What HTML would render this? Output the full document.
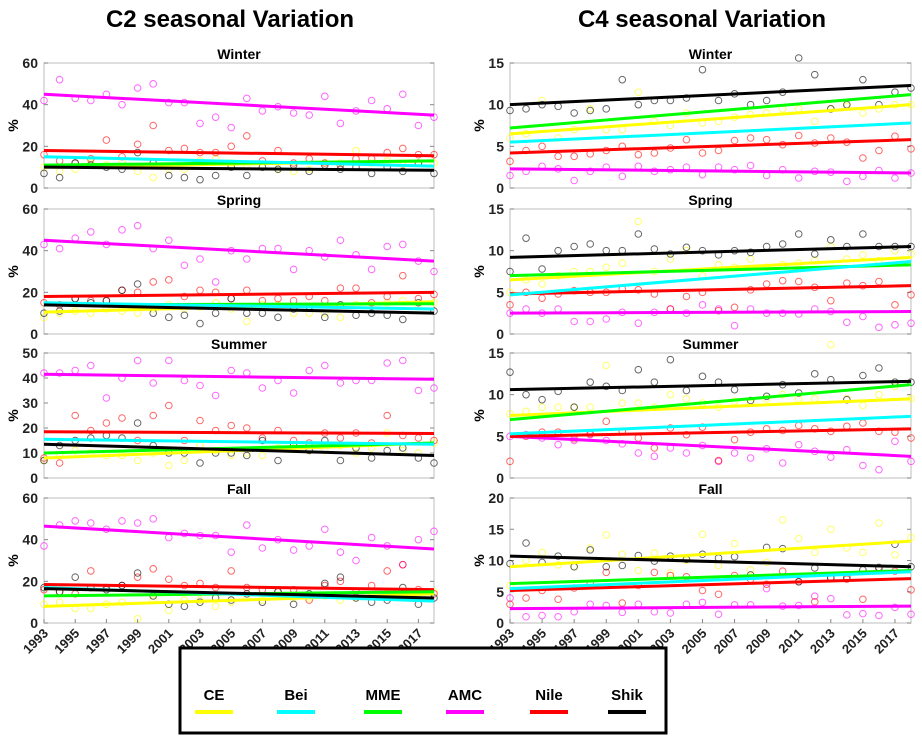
<!DOCTYPE html>
<html><head><meta charset="utf-8"><style>
body{margin:0;background:#fff;width:922px;height:743px;overflow:hidden;font-family:"Liberation Sans",sans-serif}
</style></head><body>
<svg id="chart" width="922" height="743" font-family="Liberation Sans, sans-serif">
<text x="230" y="27" font-size="24" font-weight="bold" text-anchor="middle">C2 seasonal Variation</text>
<text x="702" y="27" font-size="24" font-weight="bold" text-anchor="middle">C4 seasonal Variation</text>
<g id="panels"></g>
<rect x="180" y="648" width="486" height="85" fill="#fff" stroke="#000" stroke-width="3"/>
<g id="legend"></g>
</svg>
<script>
const years = [1993,1994,1995,1996,1997,1998,1999,2000,2001,2002,2003,2004,2005,2006,2007,2008,2009,2010,2011,2012,2013,2014,2015,2016,2017,2018];
const seriesNames = ["CE","Bei","MME","AMC","Nile","Shik"];
const seriesColors = ["#ffff00","#00ffff","#00ff00","#ff00ff","#ff0000","#000000"];
const seasons = ["Winter","Spring","Summer","Fall"];
const c2Ticks = [0,20,40,60];
const c2SummerTicks = [0,10,20,30,40,50];
const c4Ticks = [0,5,10,15];
const c4FallTicks = [0,5,10,15,20];
const xTickYears = [1993,1995,1997,1999,2001,2003,2005,2007,2009,2011,2013,2015,2017];
// trend start / end values per series [CE,Bei,MME,AMC,Nile,Shik]
const c2TrendStart = [[10,15,11,45,18,10],[10.5,15,14,45,18,14],[8,15.5,10,41.5,18.5,13.5],[8,17,13,46.5,18.5,16.5]];
const c2TrendEnd   = [[13,10.5,13,35,15.5,8.5],[15.5,12,14.5,35,20,10],[14,13.5,14,39.5,17.8,9],[14,10.5,15,35.5,16,12]];
const c4TrendStart = [[6.5,5.5,7.2,2.3,4.2,10],[6.5,4.7,7,2.5,4.8,9.2],[7.5,5.3,7,5,5,10.6],[9,5.5,6.3,2.3,5.2,10.7]];
const c4TrendEnd   = [[10,7.8,11.2,1.8,5.8,12.3],[9.2,8.7,8.3,2.7,5.8,10.5],[9.5,7.4,11.2,2.6,5.9,11.6],[13.1,8.2,8.4,2.7,7.1,9]];
const c2AMC = [
 [42,52,43,42,45,40,48,50,41,41,31,34,29,43,37,39,36,35,44,31,37,42,38,45,30,34],
 [43,41,46,49,43,50,52,41,45,33,36,25,40,36,41,41,31,40,37,45,38,31,42,43,35,30],
 [42,42,43,45,32,40,47,38,47,39,37,33,43,42,36,39,34,43,45,38,39,39,46,47,35,36],
 [37,47,49,48,45,49,48,50,41,43,42,42,34,47,36,40,35,37,45,34,30,41,37,28,40,44]];
const c2Nile = [
 [16,13,12,14,23,15,21,30,18,19,17,17,20,25,13,18,12,14,12,11,14,14,17,19,16,16],
 [15,14,17,16,16,21,20,25,26,18,21,20,17,21,16,17,16,18,16,22,22,15,18,28,17,19],
 [8,6,25,19,22,24,15,25,29,15,23,19,21,20,16,19,15,14,18,16,18,14,25,17,16,15],
 [16,15,14,25,17,18,22,26,21,18,19,17,25,17,16,15,16,11,18,20,15,18,25,28,16,14]];
const c2Shik = [
 [7,5,12,11,10,9,17,12,6,5,4,6,10,6,10,9,11,8,11,9,10,7,10,8,12,7],
 [10,11,17,15,16,21,24,10,8,9,5,10,17,10,10,8,12,13,8,14,9,10,9,7,15,11],
 [7,13,15,16,17,16,22,13,10,10,6,10,10,9,15,7,13,11,15,7,12,8,11,12,8,6],
 [17,15,22,17,16,18,24,13,9,8,10,12,11,14,10,15,9,14,19,22,12,10,11,17,9,12]];
const c4AMC = [
 [1.5,2,2.6,2.3,0.9,2,2.5,1.4,2.6,2,2.2,2.5,1.6,2.5,2.2,2.7,1.5,2.2,1.2,2,1.9,0.8,1.4,2.1,1.2,1.8],
 [2.5,3,2.5,3,1.5,1.5,1.8,2.6,1.3,2.6,3,2.5,3.5,3,1,3,2.5,2.5,2.4,3,2.7,1.4,2.1,0.8,1.1,1.3],
 [5,5.2,4.8,4,4.5,5.2,4.5,4.1,3,2.6,3.6,3,3.9,2,3,2.4,3.5,1.8,4,3.2,2.5,3.4,1.5,1,4.4,2],
 [4,1,1.2,1,1.8,3,2.8,1.7,3,1.8,1.6,3,3.3,1.4,2.9,2.9,5.5,2.7,2.8,4.3,3.9,1.3,1.5,1.2,2.5,1.4]];
const c4Nile = [
 [3.2,4.5,5,3.8,3.8,4.1,4.5,5,4,4.2,4.8,5.8,4.2,4.5,5.7,6,5.8,5.2,6.3,5.4,6,5.5,3.6,4.5,6.2,4.7],
 [3.5,5,4.3,4.8,5.2,5,5,5.4,5.3,4.8,3,4.5,5,2.8,3.2,5.3,6,6.4,6.3,5.6,4,6.1,5.8,6.3,3.5,4.7],
 [2,5,5.5,5.5,4.7,5.3,6.8,5.6,4.8,3.6,6,5.2,6.1,2.1,4.6,5.5,5.9,5.7,6.3,5.9,5.6,6.2,6.6,5.6,5.5,4.8],
 [3,4,5.2,3.8,5.6,6.3,8.1,3.2,6,8.1,7.6,7.4,5.2,4.6,7.6,7,6.2,8.3,6.6,3.4,7.2,7,3.8,8.7,8.3,5.3]];
const c4Shik = [
 [9.3,9.5,10,9.8,9,9.3,9.5,13,10,10.5,10.5,10.8,14.2,10.5,11.3,10,10.5,11.5,15.6,13.6,9.5,10,13,10,11.5,12],
 [7.5,11.5,7.8,10,10.5,10.8,10,10,12,10.2,9.6,10.4,10,9.5,10,9.8,10.5,10.8,12,9.6,11.3,10.5,12,10.5,10.5,10.5],
 [12.7,10,9.4,10.4,8.5,11.5,11,10.5,13,11.5,14.2,10.5,12.2,11.5,10.6,9.3,9.8,11.2,10.2,12.5,11.8,9.4,12.3,13.2,11.5,11.5],
 [9.5,12.8,9.7,10.7,9,11.7,9,9.2,10.8,9.9,10.7,10.2,11,10.4,10.6,7.7,12.1,11.9,6.6,8.8,7.2,7.3,8.5,8.9,12.6,9]];
const c4CE = [
 [6,6.5,10.5,6,7,9.5,7,7,11.5,8,7.5,9,7.8,8,8.5,8.8,9,9.5,9.5,8,9.5,9.8,9,9.5,10,10],
 [5,6.5,6,7,7.5,7.5,8,8.5,13.5,7.5,9,10,7,8.3,8,9,8,8.3,8.5,8.8,10.5,9,9.5,8.8,10,9.6],
 [7.7,8,8.5,8.5,8.5,8.5,13.5,9,9,8.5,10,9.5,9,8.5,9.2,9,9.5,10,9.5,9.5,16,9.5,8.7,10,11,9.5],
 [6,10,11.3,9.3,9,12,14.1,11,8.4,11.2,8,10,14.2,9.2,12.7,8.5,9.7,16.5,13.5,11.3,15,12,11.3,16,10.9,13.7]];
const c2CE = [
 [10,8,9,12,11,13,8,5,9,9,13,14,12,11,10,9,8,9,12,12,18,12,13,11,12,12],
 [8,10,11,10,12,11,10,12,14,12,13,15,12,6,14,14,10,10,10,8,14,14,15,16,14,15],
 [7,9,11,10,9,9,7,10,5,7,13,11,9,10,9,12,12,11,11,13,10,12,18,11,10,14],
 [9,10,7,7,9,10,2,11,6,11,11,8,10,12,11,13,12,12,13,11,12,13,14,13,14,15]];

const NS="http://www.w3.org/2000/svg";
function mk(tag,attrs,parent){const e=document.createElementNS(NS,tag);for(const k in attrs)e.setAttribute(k,attrs[k]);parent.appendChild(e);return e;}
const panelsG=document.getElementById('panels');
const tops=[63,209,353,498];
const H=125;
const cols=[{x0:44,x1:434,name:'c2'},{x0:510,x1:911,name:'c4'}];

for(let c=0;c<2;c++){
 for(let s=0;s<4;s++){
  const col=cols[c];
  const top=tops[s];
  const ticks = c===0?(s===2?c2SummerTicks:c2Ticks):(s===3?c4FallTicks:c4Ticks);
  const ymax = ticks[ticks.length-1];
  const xs=y=>col.x0+(y-1993)/(2018-1993)*(col.x1-col.x0);
  const ys=v=>top+H-(v/ymax)*H;
  const g=mk('g',{},panelsG);
  
  
  const frame=mk('rect',{x:col.x0,y:top,width:col.x1-col.x0,height:H,fill:'#fff',stroke:'#c8c8c8','stroke-width':1.2},g);
  
  
  const t=mk('text',{x:(col.x0+col.x1)/2,y:top-4,'font-size':14,'font-weight':'bold','text-anchor':'middle'},g);
  t.textContent=seasons[s];
  
  
  const yl=mk('text',{x:0,y:0,'font-size':14,'font-weight':'bold','text-anchor':'middle',transform:`translate(${col.x0-26},${top+H/2}) rotate(-90)`},g);
  yl.textContent='%';
  
  
  ticks.forEach(v=>{
   const tx=mk('text',{x:col.x0-6,y:ys(v)+5,'font-size':14,'font-weight':'bold','text-anchor':'end',fill:'#222'},g);
   tx.textContent=v;
   
   
   mk('line',{x1:col.x0,x2:col.x0+4,y1:ys(v),y2:ys(v),stroke:'#888'},g);
   mk('line',{x1:col.x1,x2:col.x1-4,y1:ys(v),y2:ys(v),stroke:'#888'},g);
  });
  const scat=[];
  if(c===0){scat.push([0,c2CE[s]],[3,c2AMC[s]],[4,c2Nile[s]],[5,c2Shik[s]]);}
  else{scat.push([0,c4CE[s]],[3,c4AMC[s]],[4,c4Nile[s]],[5,c4Shik[s]]);}
  scat.forEach(([si,arr])=>{
   arr.forEach((v,i)=>{
    const ci=mk('circle',{cx:xs(years[i]),cy:ys(v),r:3.3,fill:'none',stroke:seriesColors[si],'stroke-opacity':0.6,'stroke-width':1},g);
    
    
   });
  });
  const st=c===0?c2TrendStart[s]:c4TrendStart[s];
  const en=c===0?c2TrendEnd[s]:c4TrendEnd[s];
  [3,4,0,2,1,5].forEach(si=>{
   const l=mk('line',{x1:xs(1993),y1:ys(st[si]),x2:xs(2018),y2:ys(en[si]),stroke:seriesColors[si],'stroke-width':3},g);
   
   
  });
  if(s===3){
   xTickYears.forEach(y=>{
    mk('line',{x1:xs(y),x2:xs(y),y1:top+H,y2:top+H-4,stroke:'#888'},g);
    const tx=mk('text',{x:0,y:0,'font-size':13,'font-weight':'bold','text-anchor':'end',fill:'#222',transform:`translate(${xs(y)+5},${top+H+11}) rotate(-45)`},g);
    tx.textContent=y;
    
    
   });
  }
 }
}
const lg=document.getElementById('legend');
const lx=[214,296,383,465,549,627];
seriesNames.forEach((n,i)=>{
 const g=mk('g',{},lg);
 
 
 const t=mk('text',{x:lx[i],y:700,'font-size':15,'font-weight':'bold','text-anchor':'middle'},g);
 t.textContent=n;
 mk('line',{x1:lx[i]-19,x2:lx[i]+19,y1:712,y2:712,stroke:seriesColors[i],'stroke-width':4},g);
});
</script>
</body></html>
